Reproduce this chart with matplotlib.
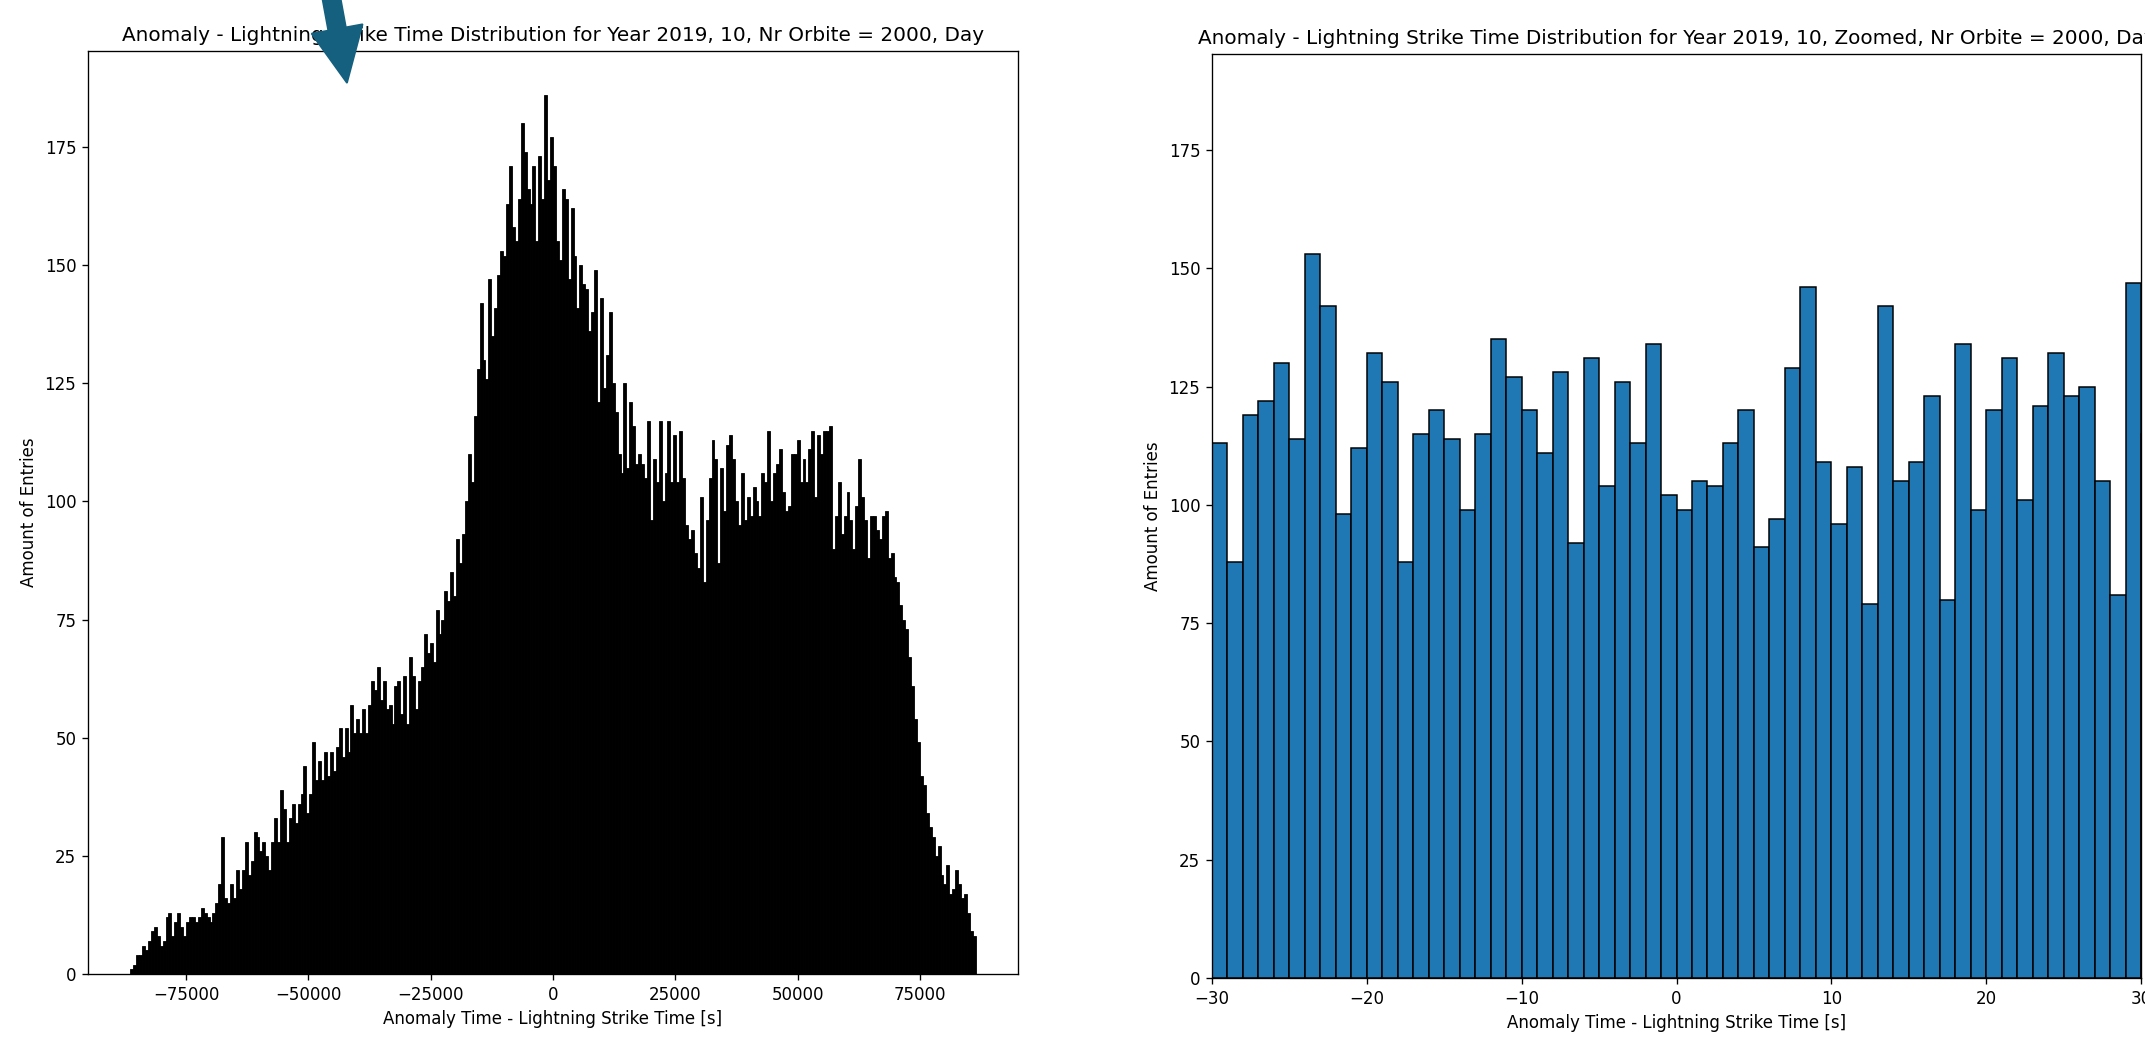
import numpy as np
import matplotlib
matplotlib.use("Agg")
import matplotlib.pyplot as plt
from matplotlib.patches import FancyArrow
from matplotlib.transforms import IdentityTransform

# ---------------- data ----------------
title_left = "Anomaly - Lightning Strike Time Distribution for Year 2019, 10, Nr Orbite = 2000, Day"
title_right = "Anomaly - Lightning Strike Time Distribution for Year 2019, 10, Zoomed, Nr Orbite = 2000, Day"
xlabel_text = "Anomaly Time - Lightning Strike Time [s]"
ylabel_text = "Amount of Entries"

# full-day histogram: 288 bins of 600 s from -86400 s to 86400 s
day_range = (-86400, 86400)
left_counts = [
    1, 2, 4, 4, 6, 5, 7, 9, 10, 8,
    6, 7, 12, 13, 8, 11, 13, 10, 8, 11,
    12, 12, 11, 12, 14, 13, 12, 11, 13, 15,
    19, 29, 16, 15, 19, 16, 22, 18, 22, 28,
    21, 24, 30, 29, 26, 28, 25, 22, 28, 33,
    28, 39, 35, 28, 33, 36, 32, 36, 38, 44,
    34, 38, 49, 41, 45, 41, 47, 42, 47, 43,
    48, 52, 46, 52, 47, 57, 51, 54, 51, 56,
    51, 57, 62, 60, 65, 58, 62, 56, 57, 53,
    61, 62, 55, 63, 53, 67, 63, 56, 62, 65,
    72, 68, 70, 66, 77, 72, 75, 81, 79, 85,
    80, 92, 87, 93, 100, 110, 104, 118, 128, 142,
    130, 126, 147, 135, 141, 148, 153, 152, 163, 171,
    158, 155, 164, 180, 174, 166, 163, 171, 155, 173,
    164, 186, 168, 177, 171, 155, 151, 166, 164, 147,
    162, 152, 141, 150, 146, 145, 136, 140, 149, 121,
    143, 124, 131, 140, 125, 119, 110, 106, 125, 107,
    121, 116, 108, 110, 108, 105, 117, 96, 109, 104,
    117, 100, 106, 117, 104, 114, 104, 115, 105, 95,
    92, 94, 89, 86, 101, 83, 96, 105, 113, 109,
    87, 107, 98, 112, 114, 109, 100, 95, 106, 96,
    101, 97, 103, 100, 97, 106, 104, 115, 100, 106,
    108, 111, 102, 98, 99, 110, 110, 113, 104, 109,
    104, 111, 115, 101, 114, 110, 115, 115, 116, 90,
    97, 104, 93, 97, 102, 96, 90, 99, 109, 101,
    96, 88, 97, 97, 94, 92, 97, 98, 88, 89,
    84, 83, 78, 75, 73, 67, 61, 54, 49, 42,
    40, 34, 31, 29, 25, 27, 21, 19, 23, 17,
    18, 22, 19, 16, 17, 13, 9, 8,
]

# zoomed histogram: 1 s bins from -30 s (last bin 30..31 lies beyond the view)
zoom_range = (-30, 31)
right_counts = [
    113, 88, 119, 122, 130, 114, 153, 142, 98, 112,
    132, 126, 88, 115, 120, 114, 99, 115, 135, 127,
    120, 111, 128, 92, 131, 104, 126, 113, 134, 102,
    99, 105, 104, 113, 120, 91, 97, 129, 146, 109,
    96, 108, 79, 142, 105, 109, 123, 80, 134, 99,
    120, 131, 101, 121, 132, 123, 125, 105, 81, 147,
    115,
]

# ---------------- figure ----------------
W, H = 2145, 1038
DPI = 120
fig = plt.figure(figsize=(W / DPI, H / DPI), dpi=DPI)
fig.patch.set_facecolor("white")

ax1 = fig.add_axes([88 / W, 1 - 974 / H, 930 / W, 923 / H])
ax2 = fig.add_axes([1212 / W, 1 - 978 / H, 929 / W, 924 / H])

# left panel
l_edges = np.linspace(day_range[0], day_range[1], len(left_counts) + 1)
l_centers = 0.5 * (l_edges[:-1] + l_edges[1:])
ax1.hist(l_centers, bins=l_edges, weights=left_counts,
         color="black", edgecolor="black", linewidth=0.5)
ax1.set_xlim(-95040, 95040)
ax1.set_ylim(0, 195.3)
ax1.set_xticks([-75000, -50000, -25000, 0, 25000, 50000, 75000])
ax1.set_yticks([0, 25, 50, 75, 100, 125, 150, 175])
ax1.set_title(title_left)
ax1.set_xlabel(xlabel_text)
ax1.set_ylabel(ylabel_text)

# right panel
r_edges = np.arange(zoom_range[0], zoom_range[1] + 1)
r_centers = 0.5 * (r_edges[:-1] + r_edges[1:])
ax2.hist(r_centers, bins=r_edges, weights=right_counts,
         color="#1f77b4", edgecolor="black", linewidth=0.9)
ax2.set_xlim(-30, 30)
ax2.set_ylim(0, 195.3)
ax2.set_xticks([-30, -20, -10, 0, 10, 20, 30])
ax2.set_yticks([0, 25, 50, 75, 100, 125, 150, 175])
ax2.set_title(title_right)
ax2.set_xlabel(xlabel_text)
ax2.set_ylabel(ylabel_text)

# annotation arrow (pixel coordinates, origin bottom-left)
tail = (329, H + 15)
tip = (347, H - 83)
arrow = FancyArrow(tail[0], tail[1], tip[0] - tail[0], tip[1] - tail[1],
                   width=18, head_width=52, head_length=55,
                   length_includes_head=True, color="#15607f",
                   transform=IdentityTransform())
fig.add_artist(arrow)

fig.savefig("out.png", dpi=DPI)
